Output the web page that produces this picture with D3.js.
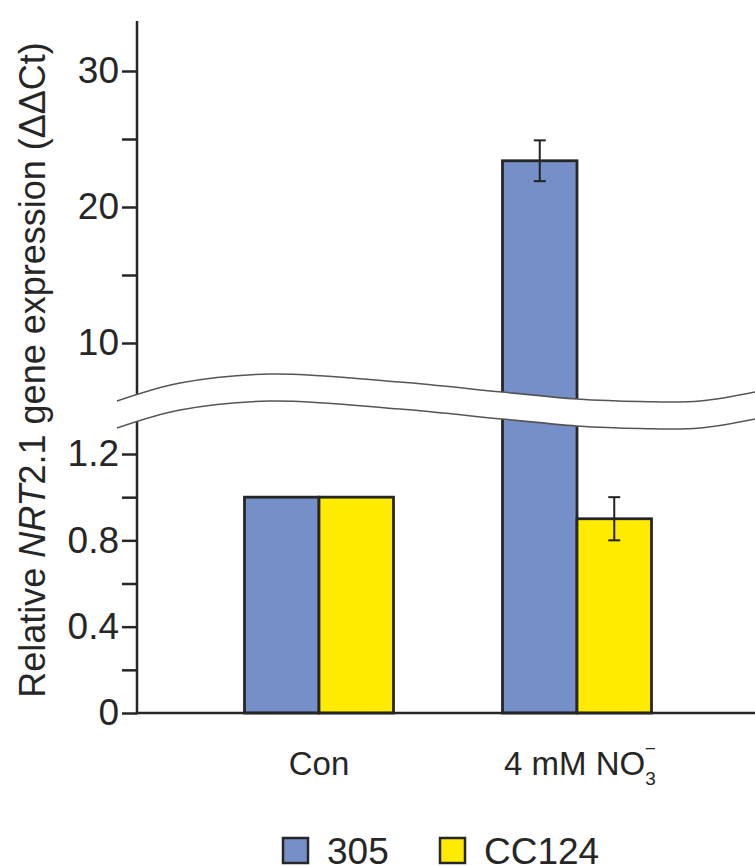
<!DOCTYPE html>
<html>
<head>
	<meta charset="utf-8">
	<style>
		body { margin: 0; background: #fff; }
		text { font-family: "Liberation Sans", Arial, sans-serif; fill: #262626; }
	</style>
</head>
<body>
<div id="chartContainer"></div>
<script src="https://cdn.jsdelivr.net/npm/d3@7"></script>
<script type="text/javascript">

// Data
	var categories = ["Con", "4 mM NO3-"];
	var seriesNames = ["305", "CC124"];
	var values305 = [1.0, 23.4];
	var valuesCC124 = [1.0, 0.9];
	var err305 = [0, 1.5];
	var errCC124 = [0, 0.1];
	var lowTicks = [0, 0.2, 0.4, 0.6, 0.8, 1.0, 1.2];
	var lowLabels = [0, 0.4, 0.8, 1.2];
	var highTicks = [10, 15, 20, 25, 30];
	var highLabels = [10, 20, 30];
	var colors = ["#7590c8", "#ffeb00"];

// Size
	var width = 755, height = 866;
	var axisX = 137, axisRight = 755;

	var svg = d3.select("#chartContainer").append("svg")
		.attr("width", width).attr("height", height);

// Two y scales, one below the break and one above it
	var yLow = d3.scaleLinear().domain([0, 1.2]).range([713, 454]);
	var yHigh = d3.scaleLinear().domain([10, 30]).range([343, 71]);
	var yVal = function(v) { return v <= 1.36 ? yLow(v) : yHigh(v); };

	var x0 = d3.scaleBand().domain(categories).range([190, 706]).paddingInner(0).paddingOuter(0);
	var x1 = d3.scaleBand().domain(seriesNames).range([0, 149]).padding(0);
	// center groups on the band centre
	var groupLeft = function(c) { return x0(c) + (x0.bandwidth() - x1.range()[1]) / 2; };

	var rows = [];
	categories.forEach(function(c, i) {
		rows.push({cat: c, s: "305", v: values305[i], e: err305[i]});
		rows.push({cat: c, s: "CC124", v: valuesCC124[i], e: errCC124[i]});
	});

// Bars
	svg.selectAll("rect.bar").data(rows).enter().append("rect")
		.attr("class", "bar")
		.attr("x", function(d) { return groupLeft(d.cat) + x1(d.s); })
		.attr("width", x1.bandwidth())
		.attr("y", function(d) { return yVal(d.v); })
		.attr("height", function(d) { return yLow(0) - yVal(d.v); })
		.attr("fill", function(d) { return colors[seriesNames.indexOf(d.s)]; })
		.attr("stroke", "#262626").attr("stroke-width", 2.8);

// Error bars
	var errRows = rows.filter(function(d) { return d.e > 0; });
	var ebar = svg.selectAll("g.err").data(errRows).enter().append("g")
		.attr("class", "err")
		.attr("stroke", "#222").attr("stroke-width", 2);
	var cx = function(d) { return groupLeft(d.cat) + x1(d.s) + x1.bandwidth() / 2; };
	ebar.append("line")
		.attr("x1", cx).attr("x2", cx)
		.attr("y1", function(d) { return yVal(d.v + d.e); })
		.attr("y2", function(d) { return yVal(d.v - d.e); });
	[1, -1].forEach(function(sgn) {
		ebar.append("line")
			.attr("x1", function(d) { return cx(d) - 6; })
			.attr("x2", function(d) { return cx(d) + 6; })
			.attr("y1", function(d) { return yVal(d.v + sgn * d.e); })
			.attr("y2", function(d) { return yVal(d.v + sgn * d.e); });
	});

// Y axes
	var fmt = function(d) { return d === 0 ? "0" : d3.format(".1f")(d); };
	var lowAxis = d3.axisLeft(yLow).tickValues(lowTicks).tickSize(15).tickPadding(3)
		.tickFormat(function(d) { return lowLabels.indexOf(d) >= 0 ? fmt(d) : ""; });
	var highAxis = d3.axisLeft(yHigh).tickValues(highTicks).tickSize(15).tickPadding(3)
		.tickFormat(function(d) { return highLabels.indexOf(d) >= 0 ? d : ""; });

	[lowAxis, highAxis].forEach(function(ax) {
		var g = svg.append("g").attr("transform", "translate(" + axisX + ",0)").call(ax);
		g.select(".domain").remove();
		g.selectAll(".tick line").attr("stroke", "#262626").attr("stroke-width", 2.5);
		g.selectAll(".tick text").style("font-size", "37px").attr("fill", "#262626")
			.style("font-family", "'Liberation Sans', Arial, sans-serif");
	});

	svg.append("line")
		.attr("x1", axisX).attr("x2", axisX)
		.attr("y1", 21).attr("y2", yLow(0) + 1.2)
		.attr("stroke", "#262626").attr("stroke-width", 2.5);
	svg.append("line")
		.attr("x1", axisX - 1.2).attr("x2", axisRight)
		.attr("y1", yLow(0)).attr("y2", yLow(0))
		.attr("stroke", "#262626").attr("stroke-width", 2.5);

// Axis break band
	var breakTop = [[117, 401], [180, 383], [270, 374], [400, 382], [502, 392],
		[577, 399], [640, 401.5], [700, 401], [760, 391]];
	var bandH = 27;
	var area = d3.area().x(function(d) { return d[0]; })
		.y0(function(d) { return d[1]; }).y1(function(d) { return d[1] + bandH; })
		.curve(d3.curveCatmullRom);
	svg.append("path").datum(breakTop).attr("d", area).attr("fill", "#fff");
	var line = d3.line().curve(d3.curveCatmullRom);
	svg.append("path").datum(breakTop).attr("d", line)
		.attr("fill", "none").attr("stroke", "#555").attr("stroke-width", 1.6);
	svg.append("path").datum(breakTop.map(function(p) { return [p[0], p[1] + bandH]; }))
		.attr("d", line).attr("fill", "none").attr("stroke", "#555").attr("stroke-width", 1.6);

// X labels
	var catCenter = function(c) { return groupLeft(c) + x1.range()[1] / 2; };
	svg.append("text").attr("x", catCenter(categories[0])).attr("y", 775)
		.attr("text-anchor", "middle").style("font-size", "33px").text("Con");
	var t2 = svg.append("text").attr("x", catCenter(categories[1]) + 3).attr("y", 775)
		.attr("text-anchor", "middle").style("font-size", "33px");
	t2.append("tspan").text("4 mM NO");
	t2.append("tspan").attr("dy", 10).style("font-size", "19px").text("3");
	t2.append("tspan").attr("dx", -11).attr("dy", -30).style("font-size", "19px").text("\u2212");

// Y axis title
	var title = svg.append("text")
		.attr("transform", "translate(45,370) rotate(-90)")
		.attr("text-anchor", "middle").style("font-size", "36px");
	title.append("tspan").text("Relative ");
	title.append("tspan").style("font-style", "italic").text("NRT");
	title.append("tspan").text("2.1 gene expression (\u0394\u0394Ct)");

// Legend
	var legend = svg.append("g");
	var legX = [283, 440];
	seriesNames.forEach(function(s, i) {
		legend.append("rect").attr("x", legX[i]).attr("y", 838).attr("width", 25).attr("height", 25)
			.attr("fill", colors[i]).attr("stroke", "#262626").attr("stroke-width", 2.5);
		legend.append("text").attr("x", legX[i] + 44).attr("y", 864)
			.style("font-size", "37px").text(s);
	});

</script>
</body>
</html>
